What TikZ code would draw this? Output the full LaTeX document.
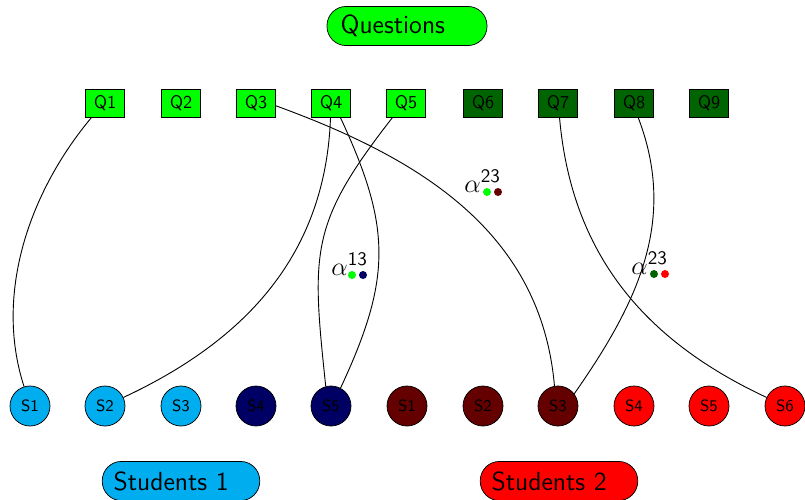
\documentclass[tikz,border=0pt]{standalone}
\definecolor{qgreen}{RGB}{0,255,0}
\definecolor{qdark}{RGB}{0,100,0}
\definecolor{sblue}{RGB}{0,174,239}
\definecolor{snavy}{RGB}{0,0,100}
\definecolor{sdred}{RGB}{100,0,0}
\definecolor{sred}{RGB}{255,0,0}
\newcommand{\supnum}[1]{\mbox{\fontsize{10.5}{12}\sffamily #1}}
\begin{document}
\begin{tikzpicture}[x=0.55pt,y=0.55pt,font=\sffamily,
  qbox/.style={draw=black,rectangle,minimum width=21.5pt,minimum height=15.4pt,inner sep=1pt},
  sbox/.style={draw=black,circle,minimum size=22pt,inner sep=0pt,font=\sffamily\small},
  title/.style={draw=black,rectangle,rounded corners=10.5pt,minimum height=21.5pt,inner xsep=6.3pt,text width=74pt,align=left,font=\sffamily\Large},
  link/.style={draw=black,line width=0.5pt},
  alab/.style={font=\Large,inner sep=0pt},
  adot/.style={circle,inner sep=0pt,minimum size=4.4pt}]
\useasboundingbox (0,0) rectangle (805,-499);
\node[title,fill=qgreen,inner xsep=7.5pt,text width=73pt] (qt) at (407,-26) {Questions};
\foreach \i/\x in {1/105,2/181,3/256,4/331,5/406}
  \node[qbox,fill=qgreen] (q\i) at (\x,-103) {Q\i};
\foreach \i/\x in {6/483,7/558,8/634,9/709}
  \node[qbox,fill=qdark] (q\i) at (\x,-103) {Q\i};
\foreach \i/\x in {1/30,2/105,3/181}
  \node[sbox,fill=sblue] (a\i) at (\x,-406) {S\i};
\foreach \i/\x in {4/256,5/331}
  \node[sbox,fill=snavy] (a\i) at (\x,-406) {S\i};
\foreach \i/\x in {1/407,2/483,3/558}
  \node[sbox,fill=sdred] (b\i) at (\x,-406) {S\i};
\foreach \i/\x in {4/634,5/709,6/785}
  \node[sbox,fill=sred] (b\i) at (\x,-406) {S\i};
\node[title,fill=sblue] (st1) at (181,-481) {Students 1};
\node[title,fill=sred] (st2) at (559,-481) {Students 2};
% connectors
\draw[link] (q1.-133) to[out=-130,in=108,out distance=52.7pt,in distance=54pt] (a1.107);
\draw[link] (q4.-92) to[out=-92,in=25] (a2.25);
\draw[link] (q3.-8) to[out=-20,in=95] (b3.100);
\draw[link] (q4.-57) to[out=-65,in=65,looseness=1.15] (a5.62);
\draw[link] (q5.-133) to[out=-128,in=96,looseness=1.25] (a5.105);
\draw[link] (q7.-84) to[out=-85,in=155] (b6.155);
\draw[link] (q8.-74) to[out=-69,in=55,out distance=60pt,in distance=62pt] (b3.37);
% labels
\node[alab,anchor=base west] (l1) at (331,-275) {$\alpha^{\supnum{13}}$};
\node[adot,fill=qgreen] (l1a) at (352,-275) {};
\node[adot,fill=snavy] (l1b) at (363,-275) {};
\node[alab,anchor=base west] (l2) at (464,-192) {$\alpha^{\supnum{23}}$};
\node[adot,fill=qgreen] (l2a) at (487,-192) {};
\node[adot,fill=sdred] (l2b) at (498,-192) {};
\node[alab,anchor=base west] (l3) at (631,-274) {$\alpha^{\supnum{23}}$};
\node[adot,fill=qdark] (l3a) at (654,-274) {};
\node[adot,fill=sred] (l3b) at (665,-274) {};
\end{tikzpicture}
\end{document}
